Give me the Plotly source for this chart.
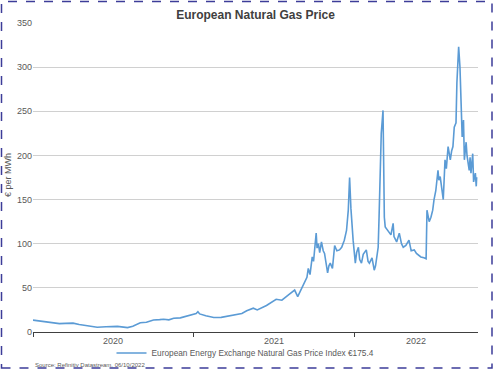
import plotly.graph_objects as go

# ---- data ----
dates = [
    "2020-01-01", "2020-01-15", "2020-02-01", "2020-02-15", "2020-03-01", "2020-03-15",
    "2020-04-01", "2020-04-15", "2020-05-01", "2020-05-26", "2020-06-15", "2020-07-11",
    "2020-07-25", "2020-08-03", "2020-08-15", "2020-09-01", "2020-09-15", "2020-10-01",
    "2020-10-15", "2020-10-24", "2020-11-05", "2020-11-16", "2020-12-01", "2020-12-18",
    "2020-12-30",
    "2021-01-06", "2021-01-10", "2021-01-14", "2021-01-28", "2021-02-15", "2021-03-04",
    "2021-03-20", "2021-04-03", "2021-04-20", "2021-05-01", "2021-05-16", "2021-05-25",
    "2021-06-15", "2021-07-07", "2021-07-20", "2021-08-04", "2021-08-18", "2021-08-25",
    "2021-09-07", "2021-09-15", "2021-09-18", "2021-09-22", "2021-09-27", "2021-09-30",
    "2021-10-06", "2021-10-08", "2021-10-11", "2021-10-14", "2021-10-18", "2021-10-22",
    "2021-10-25", "2021-11-01", "2021-11-04", "2021-11-07", "2021-11-12", "2021-11-17",
    "2021-11-22", "2021-11-28", "2021-12-03", "2021-12-09", "2021-12-14", "2021-12-18",
    "2021-12-21", "2021-12-24", "2021-12-29",
    "2022-01-03", "2022-01-06", "2022-01-10", "2022-01-13", "2022-01-17", "2022-01-21",
    "2022-01-28", "2022-02-01", "2022-02-04", "2022-02-10", "2022-02-15", "2022-02-18",
    "2022-02-24", "2022-02-26", "2022-03-03", "2022-03-07", "2022-03-10", "2022-03-12",
    "2022-03-21", "2022-03-25", "2022-03-30", "2022-04-01", "2022-04-07", "2022-04-13",
    "2022-04-18", "2022-04-22", "2022-04-28", "2022-05-05", "2022-05-10", "2022-05-17",
    "2022-05-22", "2022-05-28", "2022-06-01", "2022-06-08", "2022-06-13", "2022-06-15",
    "2022-06-20", "2022-06-24", "2022-06-28", "2022-07-01", "2022-07-05", "2022-07-10",
    "2022-07-12", "2022-07-15", "2022-07-19", "2022-07-22", "2022-07-26", "2022-07-29",
    "2022-08-02", "2022-08-05", "2022-08-07", "2022-08-10", "2022-08-13", "2022-08-16",
    "2022-08-20", "2022-08-22", "2022-08-26", "2022-08-29", "2022-09-01", "2022-09-03",
    "2022-09-06", "2022-09-08", "2022-09-12", "2022-09-14", "2022-09-19", "2022-09-21",
    "2022-09-23", "2022-09-27", "2022-09-29", "2022-10-03", "2022-10-05", "2022-10-06",
]
prices = [
    13.5, 12.5, 11.0, 10.0, 9.5, 9.8,
    10.0, 8.5, 7.0, 5.3, 6.0, 6.4,
    5.5, 5.0, 6.5, 10.5, 11.0, 13.6,
    14.0, 14.5, 13.8, 15.5, 16.0, 18.0,
    19.5,
    21.0, 23.0, 20.5, 18.5, 16.5, 16.6,
    18.0, 19.0, 21.0, 24.0, 27.0, 25.0,
    30.0, 37.0, 36.0, 42.0, 47.5, 40.0,
    53.0, 62.0, 72.0, 65.0, 85.0, 80.0,
    112.0, 95.0, 100.0, 90.0, 102.0, 92.0,
    89.0, 67.0, 75.0, 78.0, 72.0, 98.0,
    92.0, 93.0, 96.0, 104.0, 115.0, 138.0,
    175.0, 140.0, 104.0,
    78.0, 90.0, 96.0, 82.0, 78.0, 88.0,
    93.0, 80.0, 78.0, 84.0, 70.0, 75.0,
    96.0, 130.0, 225.0, 251.0, 130.0, 119.0,
    112.0, 110.0, 123.0, 108.0, 102.0, 112.0,
    100.0, 96.0, 98.0, 104.0, 92.0, 93.0,
    89.0, 87.0, 85.0, 84.0, 83.0, 138.0,
    125.0, 130.0, 138.0, 150.0, 160.0, 183.0,
    172.0, 176.0, 160.0, 150.0, 195.0, 185.0,
    210.0, 200.0, 195.0, 205.0, 210.0, 232.0,
    237.0, 282.0, 323.0, 300.0, 255.0, 221.0,
    240.0, 195.0, 215.0, 200.0, 183.0, 198.0,
    180.0, 202.0, 170.0, 180.0, 165.0, 175.4,
]
year_labels = ["2020", "2021", "2022"]
year_label_dates = ["2020-07-01", "2021-07-01", "2022-05-21"]
year_ticks = ["2020-01-01", "2021-01-01", "2022-01-01"]
y_ticks = [0, 50, 100, 150, 200, 250, 300, 350]

series_name = "European Energy Exchange Natural Gas Price Index €175.4"
title = "European Natural Gas Price"
y_title = "€ per MWh"
source = "Source: Refinitiv Datastream, 06/10/2022"

W, H = 495, 370
ML, MR, MT, MB = 33, 17, 23, 38
PW, PH = W - ML - MR, H - MT - MB

FONT = "Liberation Sans, Arial, sans-serif"
GREY = "#595959"

fig = go.Figure()
fig.add_trace(go.Scatter(
    x=dates, y=prices, mode="lines", name=series_name,
    line=dict(color="#5b9bd5", width=1.6),
))

fig.update_layout(
    width=W, height=H,
    margin=dict(l=ML, r=MR, t=MT, b=MB, autoexpand=False),
    paper_bgcolor="white", plot_bgcolor="white",
    font=dict(family=FONT, size=9, color=GREY),
    title=dict(text="<b>" + title + "</b>", x=0.5, xref="paper", xanchor="center",
               y=1 - 15 / H, yanchor="middle",
               font=dict(size=12, color="#404040", family=FONT)),
    showlegend=True,
    legend=dict(orientation="h", x=0.5 - 10 / PW, xanchor="center", y=-(353 - (H - MB)) / PH,
                yanchor="middle", font=dict(size=8.3, color=GREY), bgcolor="rgba(0,0,0,0)",
                itemwidth=30),
    xaxis=dict(
        type="date", range=["2020-01-01", "2022-10-09"], automargin=False,
        tickmode="array", tickvals=year_ticks, ticktext=["", "", ""],
        ticks="outside", ticklen=4, tickcolor="#404040", tickwidth=1,
        showgrid=False, showline=True, linecolor="#404040", linewidth=1.2,
        zeroline=False,
    ),
    yaxis=dict(
        range=[0, 350], tickmode="array", tickvals=y_ticks, automargin=False,
        showgrid=True, gridcolor="#d0d0d0", gridwidth=1,
        zeroline=False, showline=False, ticks="",
        tickfont=dict(size=9, color=GREY),
    ),
)

for lab, d in zip(year_labels, year_label_dates):
    fig.add_annotation(x=d, y=0, xref="x", yref="paper", yshift=-9,
                       text=lab, showarrow=False, xanchor="center", yanchor="middle",
                       font=dict(size=9, color=GREY))

fig.add_annotation(x=(8 - ML) / PW, xref="paper", xanchor="center",
                   y=1 - (175 - MT) / PH, yref="paper", yanchor="middle",
                   text=y_title, textangle=-90, showarrow=False,
                   font=dict(size=9, color=GREY))

fig.add_annotation(x=0, xref="paper", xanchor="left", y=-(365 - (H - MB)) / PH,
                   yref="paper", yanchor="middle", text=source, showarrow=False,
                   font=dict(size=6, color=GREY))

# dashed frame around the whole picture
fig.add_shape(type="rect", xref="paper", yref="paper",
              x0=(1.5 - ML) / PW, x1=(W - 3 - ML) / PW,
              y0=-(H - 2 - (H - MB)) / PH, y1=1 + (MT - 1.5) / PH,
              line=dict(color="#3d3d99", width=1.5, dash="dash"),
              fillcolor="rgba(0,0,0,0)", layer="above")

fig.write_html("out.html", config={"displayModeBar": False},
               post_script="document.body.style.margin='0';document.body.style.overflow='hidden';")
